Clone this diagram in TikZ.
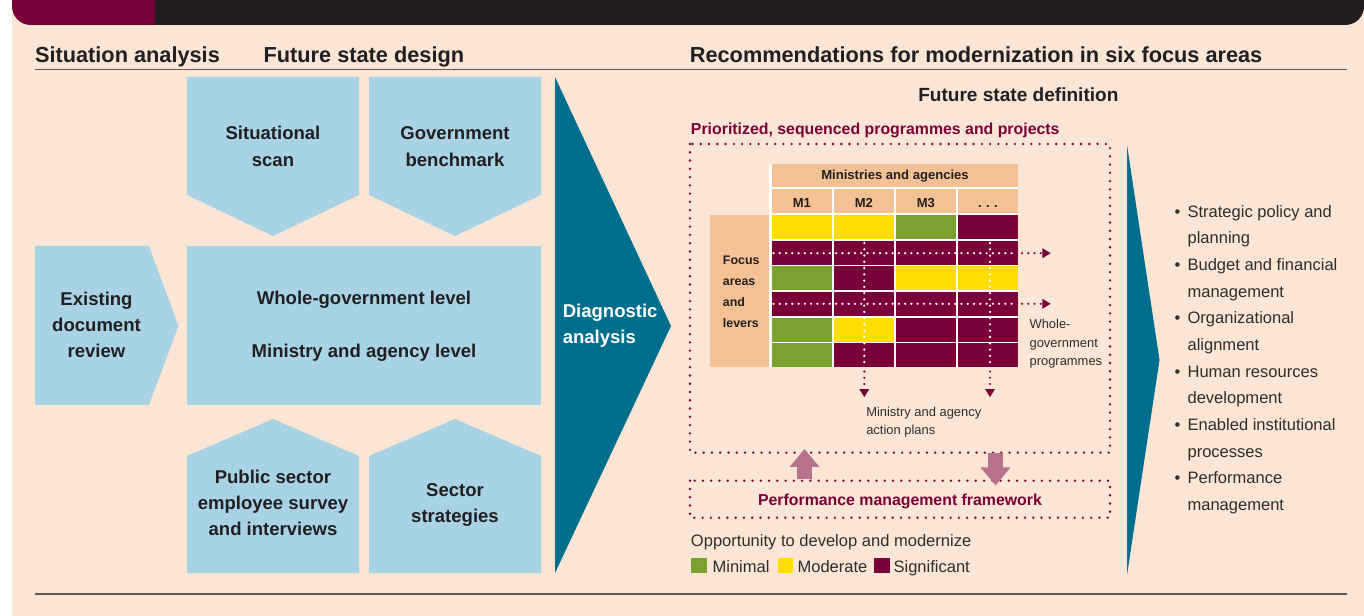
\documentclass[tikz,border=0pt]{standalone}
\usepackage{fontspec}
\setmainfont{Liberation Sans}
\usetikzlibrary{arrows.meta}
\definecolor{peach}{RGB}{251,229,212}
\definecolor{skyb}{RGB}{167,211,228}
\definecolor{tealc}{RGB}{0,111,141}
\definecolor{magc}{RGB}{122,0,56}
\definecolor{greenc}{RGB}{123,162,47}
\definecolor{yellowc}{RGB}{255,221,0}
\definecolor{orangec}{RGB}{244,193,148}
\definecolor{mauve}{RGB}{184,114,139}
\definecolor{darktxt}{RGB}{35,31,32}
\definecolor{graytxt}{RGB}{48,45,45}
\definecolor{rulec}{RGB}{100,88,82}
\begin{document}
\begin{tikzpicture}[x=0.75pt,y=-0.75pt,
  hdr/.style={anchor=base west,inner sep=0,font=\fontsize{16.3}{19}\selectfont\bfseries,text=darktxt},
  boxt/.style={anchor=base,inner sep=0,font=\fontsize{13.9}{16}\selectfont\bfseries,text=darktxt},
  diagt/.style={anchor=base west,inner sep=0,font=\fontsize{13.9}{16}\selectfont\bfseries,text=white},
  fsd/.style={anchor=base west,inner sep=0,font=\fontsize{14.3}{17}\selectfont\bfseries,text=darktxt},
  magt/.style={inner sep=0,font=\fontsize{11.9}{14}\selectfont\bfseries,text=magc},
  cellt/.style={anchor=base,inner sep=0,font=\fontsize{9.8}{12}\selectfont\bfseries,text=darktxt},
  focust/.style={anchor=base west,inner sep=0,font=\fontsize{9.3}{11}\selectfont\bfseries,text=darktxt},
  smallt/.style={anchor=base west,inner sep=0,font=\fontsize{9.7}{12}\selectfont,text=graytxt},
  bodyt/.style={anchor=base west,inner sep=0,font=\fontsize{12.4}{15}\selectfont,text=graytxt},
  bult/.style={anchor=base,inner sep=0,font=\fontsize{12.4}{15}\selectfont,text=graytxt},
  rulel/.style={draw=rulec,line width=1.4pt},
  magdots/.style={draw=magc,line width=1.95pt,line cap=round,dash pattern=on 0pt off 6.2pt},
  whitedots/.style={draw=white,line width=1.9pt,line cap=round,dash pattern=on 0pt off 4.7pt},
  gridarrow/.style={draw=magc,line width=1.8pt,line cap=round,dash pattern=on 0pt off 4.7pt,
     -{Triangle[width=7pt,length=6.2pt]}},
  bigarrow/.style={draw=mauve,line width=11.25pt,-{Triangle[width=21.5pt,length=13.5pt]}}
]
\useasboundingbox (0,0) rectangle (1364,616);
\clip (0,0) rectangle (1364,616);
% background
\fill[white] (0,0) rectangle (1364,616);
\fill[peach] (12,0) rectangle (1364,616);
% banner
\begin{scope}
  \clip (0,0) rectangle (155,40);
  \fill[magc,rounded corners=14pt] (12,-40) rectangle (400,25);
\end{scope}
\begin{scope}
  \clip (155,0) rectangle (1364,40);
  \fill[darktxt,rounded corners=14pt] (0,-40) rectangle (1364,25);
\end{scope}
% headers
\node[hdr] (h1) at (34.8,62.7) {Situation analysis};
\node[hdr] (h2) at (263.4,62.7) {Future state design};
\node[hdr] (h3) at (689.6,62.7) {Recommendations for modernization in six focus areas};
\coordinate (rA) at (35,69.5); \coordinate (rB) at (1347,69.5);
\draw[rulel] (rA) -- (rB);
\coordinate (rC) at (35,594.3); \coordinate (rD) at (1347,594.3);
\draw[rulel] (rC) -- (rD);
% blue shapes
\fill[skyb] (187,77) -- (359,77) -- (359,195) -- (273,236) -- (187,195) -- cycle;
\fill[skyb] (369,77) -- (541,77) -- (541,195) -- (455,236) -- (369,195) -- cycle;
\fill[skyb] (187,246) rectangle (541,405);
\fill[skyb] (35,246) -- (149,246) -- (178.5,326) -- (149,405) -- (35,405) -- cycle;
\fill[skyb] (187,573) -- (187,456) -- (273,419) -- (359,456) -- (359,573) -- cycle;
\fill[skyb] (369,573) -- (369,456) -- (455,419) -- (541,456) -- (541,573) -- cycle;
\fill[tealc] (555,77) -- (671,326) -- (555,573) -- cycle;
\fill[tealc] (1127,145) -- (1159.5,360) -- (1127,575) -- cycle;
% box texts
\node[boxt] (ss1) at (273,140) {Situational};
\node[boxt] (ss2) at (273,166.7) {scan};
\node[boxt] (gb1) at (455,140) {Government};
\node[boxt] (gb2) at (455,166.7) {benchmark};
\node[boxt] (ed1) at (96.5,306) {Existing};
\node[boxt] (ed2) at (96.5,331.7) {document};
\node[boxt] (ed3) at (96.5,357.3) {review};
\node[boxt] (wg) at (364,305) {Whole-government level};
\node[boxt] (ma) at (364,357.5) {Ministry and agency level};
\node[boxt] (ps1) at (273,483.3) {Public sector};
\node[boxt] (ps2) at (273,509.3) {employee survey};
\node[boxt] (ps3) at (273,535.3) {and interviews};
\node[boxt] (st1) at (455,496.7) {Sector};
\node[boxt] (st2) at (455,522.7) {strategies};
\node[diagt] (da1) at (562.5,317.3) {Diagnostic};
\node[diagt] (da2) at (562.5,343.3) {analysis};
% right panel titles
\node[fsd] (fsd) at (918,101.7) {Future state definition};
\node[magt,anchor=base west] (psp) at (690.7,135) {Prioritized, sequenced programmes and projects};
% dotted boxes
\draw[magdots] (690,144) rectangle (1110,452.7);
\draw[magdots] (690,480.7) rectangle (1110,517.7);
\node[magt,anchor=base] (pmf) at (900,505.7) {Performance management framework};
% matrix
\fill[white] (769.3,164) rectangle (1018.3,367.3);
\fill[orangec] (771.7,164) rectangle (1018.3,187.3);
\node[cellt] (mina) at (895,180) {Ministries and agencies};
\foreach \lab [count=\j] in {M1,M2,M3,{.\,\,.\,\,.}} {
  \fill[orangec] ({771.7+62*(\j-1)},189.3) rectangle ++(60.6,24);
  \node[cellt] (m\j) at ({801.9+62*(\j-1)},207.7) {\lab};
}
\fill[orangec] (710,215) rectangle (769.3,367.3);
\node[focust] (fa1) at (722.7,265) {Focus};
\node[focust] (fa2) at (722.7,286) {areas};
\node[focust] (fa3) at (722.7,306.7) {and};
\node[focust] (fa4) at (722.7,327.7) {levers};
\foreach \row [count=\i] in {{yellowc,yellowc,greenc,magc},{magc,magc,magc,magc},{greenc,magc,yellowc,yellowc},{magc,magc,magc,magc},{greenc,yellowc,magc,magc},{greenc,magc,magc,magc}} {
  \foreach \c [count=\j] in \row {
    \fill[\c] ({771.7+62*(\j-1)},{215+25.66*(\i-1)}) rectangle ++(60.6,24);
  }
}
% dotted programme lines
\foreach \yy [count=\k] in {253.2,303.8} {
  \coordinate (hs\k) at (773.5,\yy);
  \coordinate (hm\k) at (1016,\yy);
  \coordinate (hn\k) at (1022,\yy);
  \coordinate (he\k) at (1050.7,\yy);
  \draw[whitedots] (hs\k) -- (hm\k);
  \draw[gridarrow] (hn\k) -- (he\k);
}
\foreach \xx [count=\k] in {864.3,990} {
  \coordinate (vs\k) at (\xx,243);
  \coordinate (vm\k) at (\xx,366);
  \coordinate (vn\k) at (\xx,371.5);
  \coordinate (ve\k) at (\xx,397.3);
  \draw[whitedots] (vs\k) -- (vm\k);
  \draw[gridarrow] (vn\k) -- (ve\k);
}
\node[smallt] (wgp1) at (1029.3,328.3) {Whole-};
\node[smallt] (wgp2) at (1029.3,347.3) {government};
\node[smallt] (wgp3) at (1029.3,366) {programmes};
\node[smallt] (maap1) at (866,416.7) {Ministry and agency};
\node[smallt] (maap2) at (866,434.3) {action plans};
% big arrows
\coordinate (upS) at (804.5,479.5); \coordinate (upE) at (804.5,449);
\draw[bigarrow] (upS) -- (upE);
\coordinate (dnS) at (995.5,453); \coordinate (dnE) at (995.5,485.5);
\draw[bigarrow] (dnS) -- (dnE);
% legend
\node[bodyt] (opp) at (690.7,546) {Opportunity to develop and modernize};
\fill[greenc] (691,558.3) rectangle (706.7,573.3);
\node[bodyt] (lg1) at (712.3,572.7) {Minimal};
\fill[yellowc] (777.7,558.3) rectangle (793.3,573.3);
\node[bodyt] (lg2) at (797.3,572.7) {Moderate};
\fill[magc] (874,558.3) rectangle (889.7,573.3);
\node[bodyt] (lg3) at (893.3,572.7) {Significant};
% bullets
\foreach \t [count=\k] in {Strategic policy and,planning,Budget and financial,management,Organizational,alignment,Human resources,development,Enabled institutional,processes,Performance,management} {
  \node[bodyt] (bl\k) at (1187.3,{217.3+26.67*(\k-1)}) {\t};
}
\foreach \k in {1,3,5,7,9,11} {
  \node[bult] (bu\k) at (1177.5,{217.3+26.67*(\k-1)}) {•};
}
\end{tikzpicture}
\end{document}
